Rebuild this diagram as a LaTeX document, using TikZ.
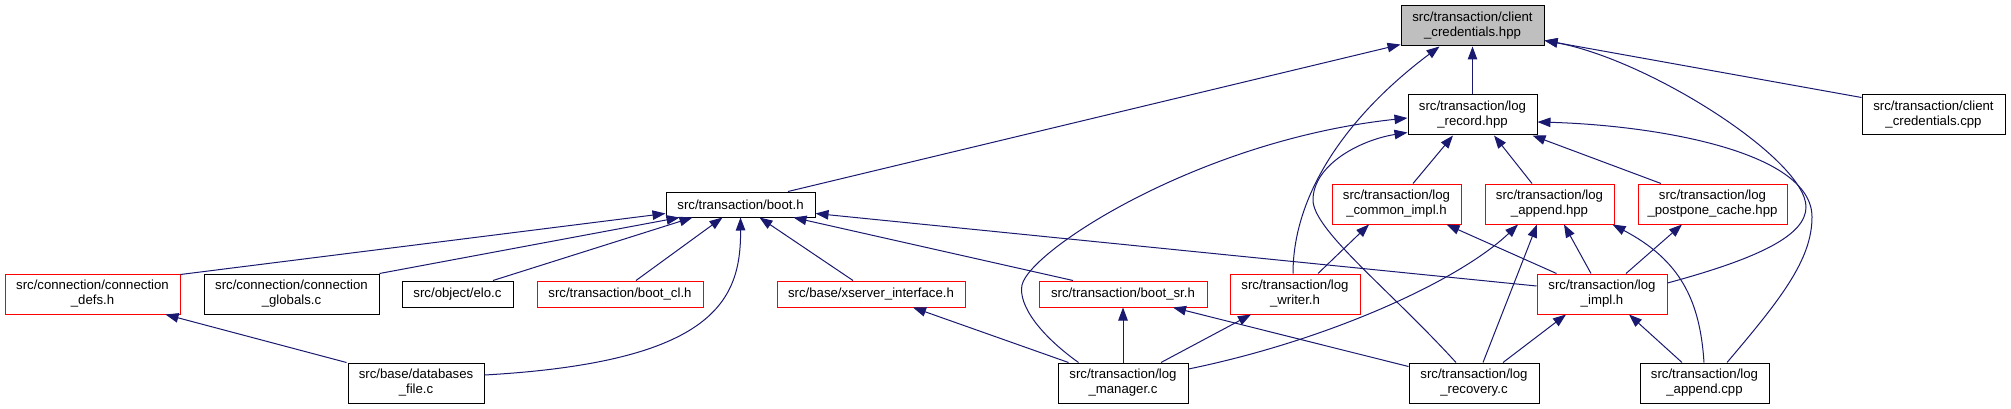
\documentclass[tikz,border=0pt]{standalone}
\usepackage{fontspec}
\setmainfont{Liberation Sans}
\usetikzlibrary{arrows.meta}
\definecolor{edgeblue}{HTML}{191970}
\definecolor{maingray}{HTML}{BFBFBF}
\begin{document}
\begin{tikzpicture}[x=1pt,y=-1pt,
  nb/.style={draw=black, line width=1pt, inner sep=0pt, align=center,
    font=\fontsize{13.2}{15}\selectfont, minimum height=40pt},
  redb/.style={nb, draw=red},
  one/.style={minimum height=26pt},
  edge/.style={draw=edgeblue, line width=1pt, -{Triangle[length=13pt,width=9.5pt]}}]
\fill[white] (0,0) rectangle (2011,409);
\useasboundingbox (0,0) rectangle (2011,409);

% nodes
\node[nb, fill=maingray, minimum width=143pt] (cch) at (1472.5,26) {src/transaction/client\\\_credentials.hpp};
\node[nb, minimum width=129pt] (lrec) at (1472.5,115) {src/transaction/log\\\_record.hpp};
\node[nb, minimum width=143pt] (ccpp) at (1933.5,115) {src/transaction/client\\\_credentials.cpp};
\node[nb, minimum width=149pt, minimum height=25pt] (boot) at (740.5,204.5) {src/transaction/boot.h};
\node[redb, minimum width=129pt] (lcommon) at (1396.5,204) {src/transaction/log\\\_common\_impl.h};
\node[redb, minimum width=129pt] (lapphpp) at (1549.5,204) {src/transaction/log\\\_append.hpp};
\node[redb, minimum width=149pt] (lpost) at (1712.5,204) {src/transaction/log\\\_postpone\_cache.hpp};
\node[redb, minimum width=175pt] (cdefs) at (92.5,294) {src/connection/connection\\\_defs.h};
\node[nb, minimum width=175pt] (cglob) at (291.5,294) {src/connection/connection\\\_globals.c};
\node[nb, one, minimum width=111pt] (elo) at (457.5,294) {src/object/elo.c};
\node[redb, one, minimum width=166pt] (bootcl) at (620,294) {src/transaction/boot\_cl.h};
\node[redb, one, minimum width=188pt] (xserver) at (871,294) {src/base/xserver\_interface.h};
\node[redb, one, minimum width=168pt] (bootsr) at (1123,294) {src/transaction/boot\_sr.h};
\node[redb, minimum width=130pt] (lwriter) at (1295,294) {src/transaction/log\\\_writer.h};
\node[redb, minimum width=130pt] (limpl) at (1602,294) {src/transaction/log\\\_impl.h};
\node[nb, minimum width=136pt] (dbfile) at (416,383) {src/base/databases\\\_file.c};
\node[nb, minimum width=130pt] (lmgr) at (1123,383) {src/transaction/log\\\_manager.c};
\node[nb, minimum width=130pt] (lrecov) at (1474,383) {src/transaction/log\\\_recovery.c};
\node[nb, minimum width=129pt] (lappcpp) at (1704.5,383) {src/transaction/log\\\_append.cpp};

% straight edges
\draw[edge] ([xshift=47.5pt]boot.north) -- ([yshift=2pt]cch.south west);
\draw[edge] (lrec.north) -- (cch.south);
\draw[edge] ([yshift=-3pt]ccpp.north west) -- ([yshift=6pt]cch.south east);
\draw[edge] ([yshift=-1pt]cdefs.north east) -- ([yshift=4pt]boot.south west);
\draw[edge] (cglob.north east) -- ([xshift=14pt]boot.south west);
\draw[edge] ([xshift=35.5pt]elo.north) -- ([xshift=27pt]boot.south west);
\draw[edge] ([xshift=16pt]bootcl.north) -- ([xshift=57pt]boot.south west);
\draw[edge] ([xshift=-18pt]xserver.north) -- ([xshift=94pt]boot.south west);
\draw[edge] ([xshift=-50pt]bootsr.north) -- ([xshift=-22pt]boot.south east);
\draw[edge] ([yshift=8pt]limpl.west) -- ([yshift=4pt]boot.south east);
\draw[edge] ([xshift=16.5pt]lcommon.north) -- ([xshift=-19.5pt]lrec.south);
\draw[edge] ([xshift=-17.5pt]lapphpp.north) -- ([xshift=21.5pt]lrec.south);
\draw[edge] ([xshift=-51.5pt]lpost.north) -- ([xshift=-5pt]lrec.south east);
\draw[edge] ([xshift=23pt]lwriter.north) -- ([xshift=-27.5pt]lcommon.south);
\draw[edge] ([xshift=20pt]limpl.north west) -- ([xshift=-15pt]lcommon.south east);
\draw[edge] ([xshift=9pt]lrecov.north) -- ([xshift=-12.5pt]lapphpp.south);
\draw[edge] ([xshift=-11pt]limpl.north) -- ([xshift=14.5pt]lapphpp.south);
\draw[edge] ([xshift=24pt]limpl.north) -- ([xshift=-30.5pt]lpost.south);
\draw[edge] (lmgr.north) -- (bootsr.south);
\draw[edge] ([yshift=-4pt]lrecov.north west) -- ([xshift=50pt]bootsr.south);
\draw[edge] ([xshift=11pt]lmgr.north west) -- ([xshift=42pt]xserver.south);
\draw[edge] ([xshift=38pt]lmgr.north) -- ([xshift=-44pt]lwriter.south);
\draw[edge] ([xshift=29pt]lrecov.north) -- ([xshift=-36pt]limpl.south);
\draw[edge] ([xshift=-22.5pt]lappcpp.north) -- ([xshift=27pt]limpl.south);
\draw[edge] ([xshift=-1pt]dbfile.north west) -- ([xshift=-15pt]cdefs.south east);

% curved edges
\draw[edge] ([xshift=-2pt]lwriter.north) .. controls (1293,190) and (1352,112) .. ([xshift=-33pt]cch.south);
\draw[edge] ([yshift=11pt]limpl.east) .. controls (1760,258) and (1806,235) .. (1806,207)
  .. controls (1806,160) and (1650,60) .. ([yshift=6pt]cch.south east);
\draw[edge] ([yshift=8pt]dbfile.east) .. controls (715,362) and (741,300) .. (boot.south);
\draw[edge] ([xshift=21pt]lmgr.north west) .. controls (1040,335) and (1018,305) .. (1022,285)
  .. controls (1030,250) and (1200,140) .. ([yshift=-3pt]lrec.west);
\draw[edge] ([xshift=-18pt]lrecov.north) .. controls (1390,290) and (1313,230) .. (1313,200)
  .. controls (1313,165) and (1360,140) .. ([yshift=3pt]lrec.south west);
\draw[edge] ([xshift=22.5pt]lappcpp.north) .. controls (1780,300) and (1812,260) .. (1812,217)
  .. controls (1812,150) and (1650,125) .. ([yshift=-7pt]lrec.east);
\draw[edge] ([yshift=14pt]lmgr.east) .. controls (1330,340) and (1460,280) .. ([xshift=-31.5pt]lapphpp.south);
\draw[edge] ([xshift=-0.5pt]lappcpp.north) .. controls (1700,300) and (1680,260) .. ([xshift=-2pt]lapphpp.south east);
\end{tikzpicture}
\end{document}
